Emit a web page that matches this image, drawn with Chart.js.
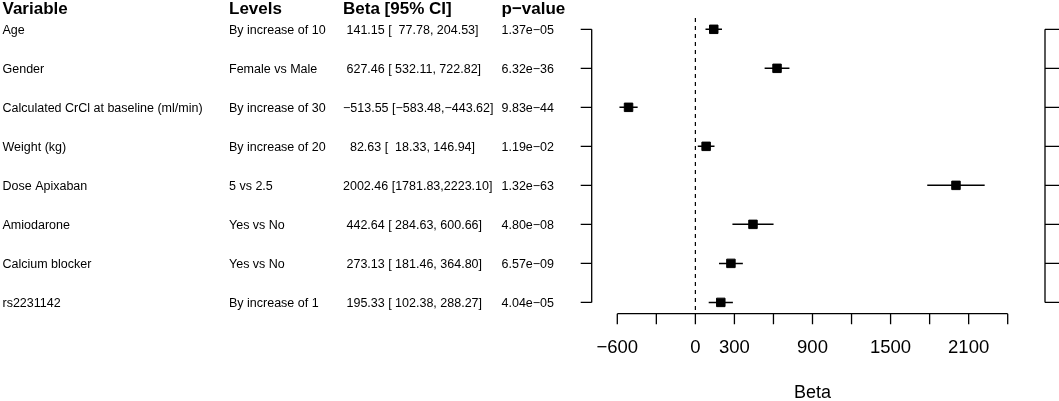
<!DOCTYPE html>
<html>
<head>
<meta charset="utf-8">
<script src="https://cdn.jsdelivr.net/npm/chart.js@4"></script>
<style>
  body { margin: 0; background: #fff; }
  #wrap { width: 1059px; height: 401px; position: relative; }
</style>
</head>
<body>
<div id="wrap"><canvas id="myChart"></canvas></div>
<script>
const variables = [
  "Age", "Gender", "Calculated CrCl at baseline (ml/min)", "Weight (kg)",
  "Dose Apixaban", "Amiodarone", "Calcium blocker", "rs2231142"
];
const levels = [
  "By increase of 10", "Female vs Male", "By increase of 30", "By increase of 20",
  "5 vs 2.5", "Yes vs No", "Yes vs No", "By increase of 1"
];
const estimates = [141.15, 627.46, -513.55, 82.63, 2002.46, 442.64, 273.13, 195.33];
const lower = [77.78, 532.11, -583.48, 18.33, 1781.83, 284.63, 181.46, 102.38];
const upper = [204.53, 722.82, -443.62, 146.94, 2223.10, 600.66, 364.80, 288.27];
const pValues = [
  "1.37e\u221205", "6.32e\u221236", "9.83e\u221244", "1.19e\u221202",
  "1.32e\u221263", "4.80e\u221208", "6.57e\u221209", "4.04e\u221205"
];
const headers = ["Variable", "Levels", "Beta [95% CI]", "p\u2212value"];
const xTicks = [-600, -300, 0, 300, 600, 900, 1200, 1500, 1800, 2100, 2400];
const xTickLabels = ["\u2212600", "", "0", "300", "", "900", "", "1500", "", "2100", ""];
const xTitle = "Beta";

const FONT = "'Liberation Sans', Arial, sans-serif";
const rows = variables.map((v, i) => i + 1);

// fixed-width text like R's formatC
function fmt(v) {
  return v.toFixed(2).padStart(7, " ").replace("-", "\u2212");
}
const betaText = estimates.map((e, i) => fmt(e) + " [" + fmt(lower[i]) + "," + fmt(upper[i]) + "]");

const colX = [2.5, 229, 343, 501.5];

const ciSets = rows.map((r, i) => ({
  type: "line",
  data: [{ x: lower[i], y: r }, { x: upper[i], y: r }],
  borderColor: "#000",
  borderWidth: 1.5,
  pointRadius: 0,
  showLine: true
}));

const forestPlugin = {
  id: "forest",
  beforeDatasetsDraw(chart) {
    const { ctx, chartArea, scales: { x } } = chart;
    const zx = x.getPixelForValue(0);
    ctx.save();
    ctx.strokeStyle = "#000";
    ctx.lineWidth = 1.2;
    ctx.setLineDash([4, 4]);
    ctx.beginPath();
    ctx.moveTo(zx, chartArea.top);
    ctx.lineTo(zx, chartArea.bottom);
    ctx.stroke();
    ctx.restore();
  },
  afterDraw(chart) {
    const { ctx, chartArea, scales: { x, y } } = chart;
    ctx.save();
    ctx.fillStyle = "#000";
    ctx.strokeStyle = "#000";
    ctx.lineWidth = 1.3;
    ctx.textBaseline = "middle";

    // table
    ctx.textAlign = "left";
    ctx.font = "bold 17px " + FONT;
    headers.forEach((h, j) => ctx.fillText(h, colX[j], 9));
    ctx.font = "12.5px " + FONT;
    rows.forEach((r, i) => {
      const py = y.getPixelForValue(r) + 1;
      ctx.fillText(variables[i], colX[0], py);
      ctx.fillText(levels[i], colX[1], py);
      ctx.fillText(betaText[i], colX[2], py);
      ctx.fillText(pValues[i], colX[3], py);
    });

    // left and right box axes
    const yTop = y.getPixelForValue(rows[0]);
    const yBot = y.getPixelForValue(rows[rows.length - 1]);
    ctx.beginPath();
    ctx.moveTo(chartArea.left, yTop);
    ctx.lineTo(chartArea.left, yBot);
    ctx.moveTo(chartArea.right, yTop);
    ctx.lineTo(chartArea.right, yBot);
    rows.forEach(r => {
      const py = y.getPixelForValue(r);
      ctx.moveTo(chartArea.left - 11, py);
      ctx.lineTo(chartArea.left, py);
      ctx.moveTo(chartArea.right, py);
      ctx.lineTo(chartArea.right + 14, py);
    });
    ctx.stroke();

    // bottom axis
    const axY = chartArea.bottom;
    ctx.beginPath();
    ctx.moveTo(x.getPixelForValue(xTicks[0]), axY);
    ctx.lineTo(x.getPixelForValue(xTicks[xTicks.length - 1]), axY);
    xTicks.forEach(t => {
      const px = x.getPixelForValue(t);
      ctx.moveTo(px, axY);
      ctx.lineTo(px, axY + 10.5);
    });
    ctx.stroke();

    ctx.textAlign = "center";
    ctx.font = "18.5px " + FONT;
    xTicks.forEach((t, i) => {
      if (xTickLabels[i]) ctx.fillText(xTickLabels[i], x.getPixelForValue(t), axY + 34.5);
    });
    ctx.font = "18px " + FONT;
    ctx.fillText(xTitle, x.getPixelForValue(900), axY + 79.5);
    ctx.restore();
  }
};

const data = {
  datasets: [
    ...ciSets,
    {
      type: "scatter",
      data: rows.map((r, i) => ({ x: estimates[i], y: r })),
      pointStyle: "rect",
      pointRadius: 6,
      backgroundColor: "#000",
      borderColor: "#000",
      borderWidth: 1
    }
  ]
};

const options = {
  responsive: true,
  maintainAspectRatio: false,
  animation: false,
  layout: {
    padding: { left: 591.7, right: 14, top: 18, bottom: 87.3 }
  },
  plugins: {
    legend: { display: false },
    tooltip: { enabled: false }
  },
  scales: {
    x: { type: "linear", display: false, min: -796.7, max: 2686.6 },
    y: { type: "linear", display: false, reverse: true, min: 0.71, max: 8.29 }
  }
};

const config = {
  type: "scatter",
  data: data,
  options: options,
  plugins: [forestPlugin]
};

const myChart = new Chart(document.getElementById("myChart"), config);
</script>
</body>
</html>
